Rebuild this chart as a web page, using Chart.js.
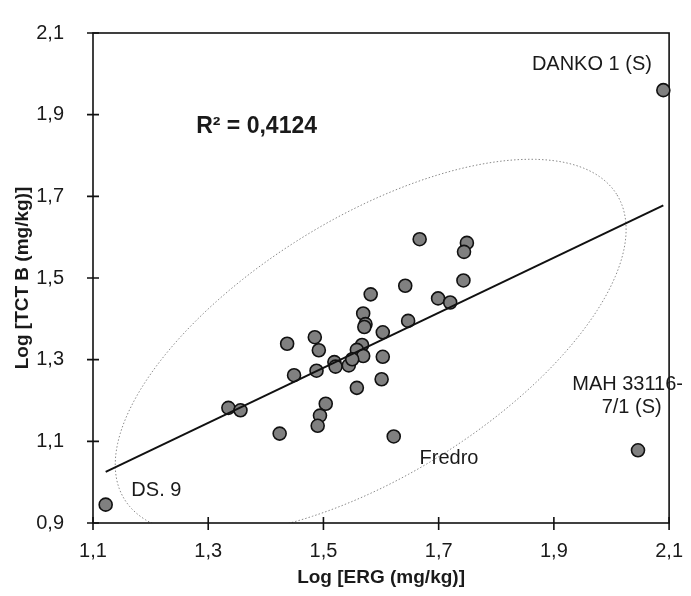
<!DOCTYPE html>
<html>
<head>
<meta charset="utf-8">
<script src="https://cdn.jsdelivr.net/npm/chart.js@4.4.0/dist/chart.umd.min.js"></script>
<style>
  html, body { margin: 0; padding: 0; background: #fff; }
</style>
</head>
<body>
<canvas id="ergChart" width="691" height="596"></canvas>
<script>
// Log ERG (x) vs Log TCT B (y), one entry per sample
var ergLog = [1.122, 1.335, 1.356, 1.424, 1.667, 1.749, 1.744, 1.743, 1.642, 1.582,
              1.699, 1.720, 1.569, 1.647, 1.573, 1.571, 1.603, 1.485, 1.437, 1.492,
              1.567, 1.558, 1.569, 1.603, 1.519, 1.521, 1.544, 1.550, 1.488, 1.449,
              1.601, 1.558, 1.504, 1.494, 1.490, 1.622, 2.090, 2.046];
var tctLog = [0.945, 1.182, 1.176, 1.119, 1.595, 1.586, 1.564, 1.494, 1.481, 1.460,
              1.450, 1.440, 1.413, 1.395, 1.387, 1.380, 1.367, 1.355, 1.339, 1.323,
              1.336, 1.324, 1.309, 1.307, 1.294, 1.283, 1.286, 1.301, 1.273, 1.262,
              1.252, 1.231, 1.192, 1.163, 1.138, 1.112, 1.960, 1.078];

// trend line end points
var trendX = [1.122, 2.090];
var trendY = [1.025, 1.678];

var xTicks = [1.1, 1.3, 1.5, 1.7, 1.9, 2.1];
var yTicks = [0.9, 1.1, 1.3, 1.5, 1.7, 1.9, 2.1];

// text notes placed in data units
var notes = [
  { text: 'R\u00b2 = 0,4124', x: 1.384, y: 1.871, bold: true },
  { text: 'DANKO 1 (S)', x: 1.966, y: 2.023 },
  { text: 'MAH 33116-', x: 2.028, y: 1.240 },
  { text: '7/1 (S)', x: 2.035, y: 1.182 },
  { text: 'Fredro', x: 1.718, y: 1.059 },
  { text: 'DS. 9', x: 1.210, y: 0.980 }
];

// dotted ellipse: centre and two half-axis vectors, data units
var ellCentre = [1.582, 1.331];
var ellMajor = [0.427, 0.374];
var ellMinor = [-0.1195, 0.2674];

var FONT = "'Liberation Sans', Arial, sans-serif";

var points = ergLog.map(function (x, i) { return { x: x, y: tctLog[i] }; });
var trend = trendX.map(function (x, i) { return { x: x, y: trendY[i] }; });

function fmt(v) { return v.toFixed(1).replace('.', ','); }

var framePlugin = {
  id: 'frame',
  beforeDatasetsDraw: function (chart) {
    var ctx = chart.ctx, a = chart.chartArea;
    var xs = chart.scales.x, ys = chart.scales.y;

    // ellipse
    ctx.save();
    ctx.beginPath();
    ctx.rect(a.left, a.top, a.right - a.left, a.bottom - a.top);
    ctx.clip();
    ctx.beginPath();
    for (var k = 0; k <= 200; k++) {
      var t = k / 200 * Math.PI * 2;
      var dx = ellCentre[0] + Math.cos(t) * ellMajor[0] + Math.sin(t) * ellMinor[0];
      var dy = ellCentre[1] + Math.cos(t) * ellMajor[1] + Math.sin(t) * ellMinor[1];
      var px = xs.getPixelForValue(dx), py = ys.getPixelForValue(dy);
      if (k === 0) ctx.moveTo(px, py); else ctx.lineTo(px, py);
    }
    ctx.strokeStyle = '#8a8a8a';
    ctx.lineWidth = 1;
    ctx.setLineDash([1.5, 2]);
    ctx.stroke();
    ctx.restore();

    // box and crossing ticks
    ctx.save();
    ctx.strokeStyle = '#111';
    ctx.lineWidth = 1.6;
    ctx.strokeRect(a.left, a.top, a.right - a.left, a.bottom - a.top);
    ctx.beginPath();
    xTicks.forEach(function (v) {
      var px = xs.getPixelForValue(v);
      ctx.moveTo(px, a.bottom - 6);
      ctx.lineTo(px, a.bottom + 7);
    });
    yTicks.forEach(function (v) {
      var py = ys.getPixelForValue(v);
      ctx.moveTo(a.left - 6, py);
      ctx.lineTo(a.left + 6, py);
    });
    ctx.stroke();
    ctx.restore();
  },
  afterDatasetsDraw: function (chart) {
    var ctx = chart.ctx;
    var xs = chart.scales.x, ys = chart.scales.y;
    ctx.save();
    ctx.fillStyle = '#1a1a1a';
    ctx.textAlign = 'center';
    ctx.textBaseline = 'middle';
    notes.forEach(function (n) {
      ctx.font = (n.bold ? 'bold 23px ' : '20px ') + FONT;
      ctx.fillText(n.text, xs.getPixelForValue(n.x), ys.getPixelForValue(n.y));
    });
    ctx.restore();
  }
};

var ergChart = new Chart(document.getElementById('ergChart'), {
  type: 'scatter',
  data: {
    datasets: [{
      type: 'line',
      data: trend,
      borderColor: '#111',
      borderWidth: 2,
      pointRadius: 0,
      fill: false,
      order: 0
    }, {
      data: points,
      backgroundColor: '#808080',
      borderColor: '#111',
      borderWidth: 1.6,
      pointRadius: 6.5,
      clip: false,
      order: 1
    }]
  },
  options: {
    responsive: false,
    animation: false,
    layout: { padding: { top: 25, right: 17, left: 0, bottom: 0 } },
    plugins: { legend: { display: false }, tooltip: { enabled: false } },
    scales: {
      x: {
        type: 'linear',
        min: 1.1, max: 2.1,
        afterBuildTicks: function (s) { s.ticks = xTicks.map(function (v) { return { value: v }; }); },
        afterFit: function (s) { s.height = 73; },
        grid: { display: false },
        border: { display: false },
        ticks: {
          padding: 8,
          color: '#1a1a1a',
          font: { family: FONT, size: 20 },
          maxRotation: 0,
          callback: function (v) { return fmt(v); }
        },
        title: {
          display: true,
          text: 'Log [ERG (mg/kg)]',
          color: '#1a1a1a',
          font: { family: FONT, size: 19, weight: 'bold' },
          padding: { top: 0, bottom: 7 }
        }
      },
      y: {
        type: 'linear',
        min: 0.9, max: 2.1,
        afterBuildTicks: function (s) { s.ticks = yTicks.map(function (v) { return { value: v }; }); },
        afterFit: function (s) { s.width = 93; },
        grid: { display: false },
        border: { display: false },
        ticks: {
          padding: 21,
          color: '#1a1a1a',
          font: { family: FONT, size: 20 },
          callback: function (v) { return fmt(v); }
        },
        title: {
          display: true,
          text: 'Log [TCT B (mg/kg)]',
          color: '#1a1a1a',
          font: { family: FONT, size: 19, weight: 'bold' },
          padding: { top: 11, bottom: 0 }
        }
      }
    }
  },
  plugins: [framePlugin]
});
</script>
</body>
</html>
